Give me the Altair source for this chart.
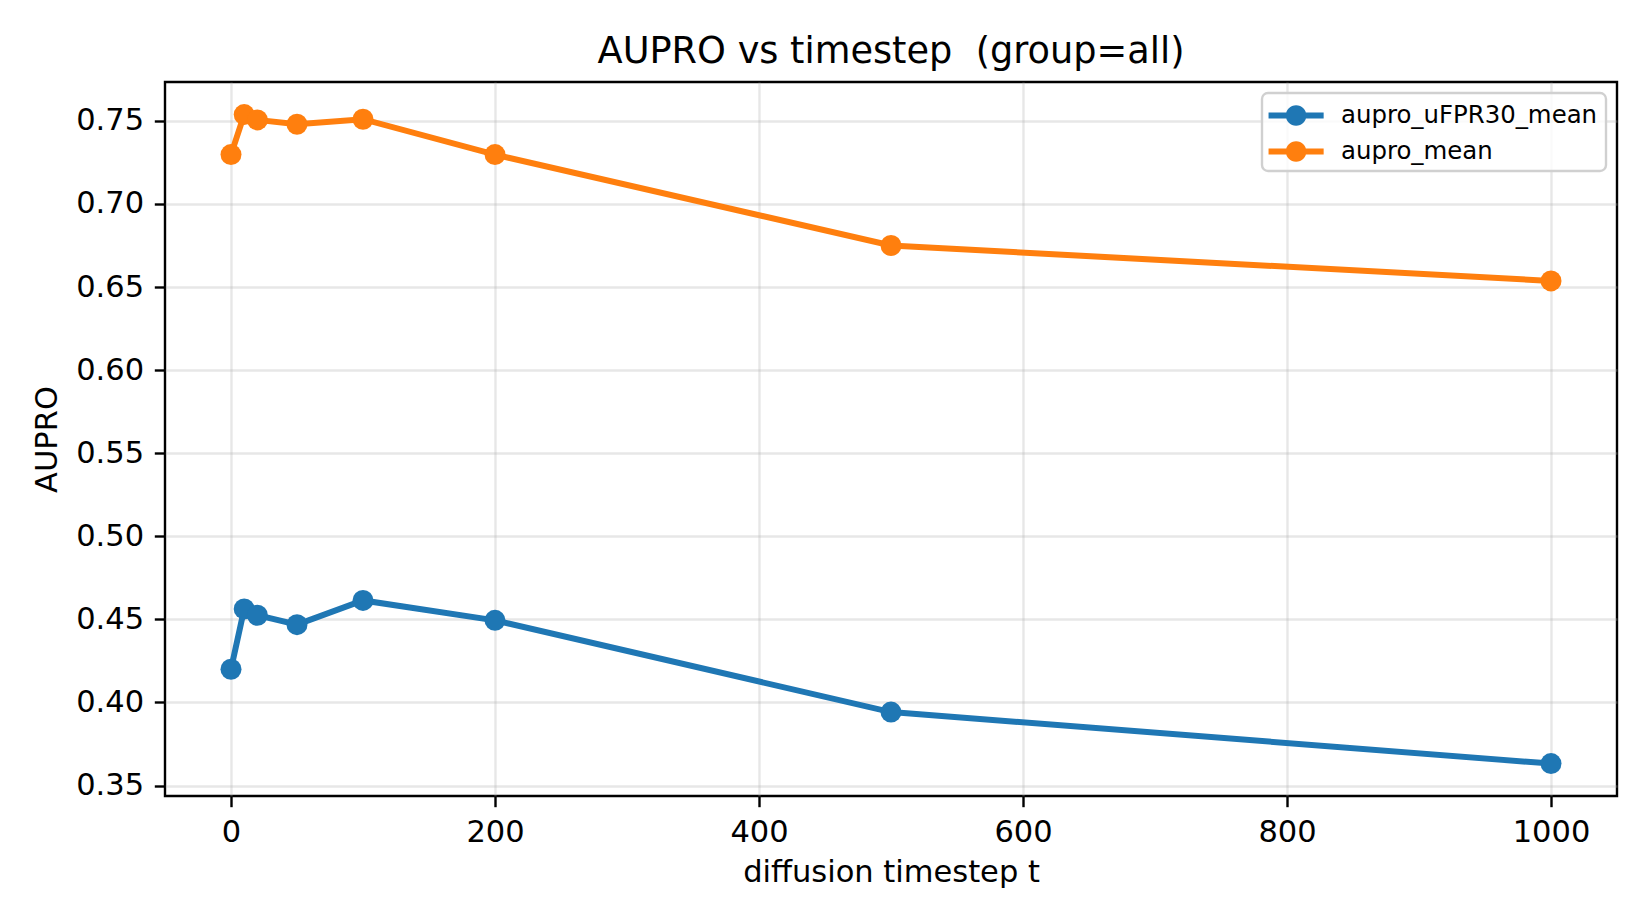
import altair as alt
import pandas as pd

timesteps = [0, 10, 20, 50, 100, 200, 500, 1000]
aupro_ufpr30_mean = [0.420, 0.4563, 0.4525, 0.4468, 0.4614, 0.4494, 0.3942, 0.3632]
aupro_mean = [0.7297, 0.7538, 0.7506, 0.7480, 0.7510, 0.7297, 0.6750, 0.6537]
series_names = ["aupro_uFPR30_mean", "aupro_mean"]
series_colors = ["#1f77b4", "#ff7f0e"]
x_ticks = [0, 200, 400, 600, 800, 1000]
y_ticks = [0.35, 0.40, 0.45, 0.50, 0.55, 0.60, 0.65, 0.70, 0.75]

rows = []
for name, vals in zip(series_names, [aupro_ufpr30_mean, aupro_mean]):
    for t, v in zip(timesteps, vals):
        rows.append({"t": t, "value": v, "series": name})
df = pd.DataFrame(rows)

FONT = "DejaVu Sans"
# legend glyph: a short line with a dot in the middle (unit coords, scaled by sqrt(size)/2)
legend_path = ("M-1.1,-0.207H2.7V0.207H-1.1Z "
               "M1.51,0A0.71,0.71 0 1,1 0.09,0A0.71,0.71 0 1,1 1.51,0Z")

x_enc = alt.X("t:Q", title="diffusion timestep t",
              scale=alt.Scale(domain=[-50, 1050], nice=False, zero=False),
              axis=alt.Axis(values=x_ticks, format="d", titlePadding=10))
y_enc = alt.Y("value:Q", title="AUPRO",
              scale=alt.Scale(domain=[0.3437, 0.7734], nice=False, zero=False),
              axis=alt.Axis(values=y_ticks, format=".2f", titlePadding=13))
color_scale = alt.Scale(domain=series_names, range=series_colors)

lines = alt.Chart(df).mark_line(strokeWidth=6).encode(
    x=x_enc, y=y_enc,
    color=alt.Color("series:N", scale=color_scale, sort=series_names, legend=None),
    detail="series:N",
)
points = alt.Chart(df).mark_point(filled=True, size=441, opacity=1, strokeWidth=0).encode(
    x=x_enc, y=y_enc,
    color=alt.Color("series:N", scale=color_scale, sort=series_names,
                    legend=alt.Legend(title=None, orient="top-right", offset=11,
                                      symbolType=legend_path, symbolSize=841,
                                      symbolOpacity=1, symbolStrokeWidth=0,
                                      labelFontSize=24.4, labelFont=FONT, labelColor="black",
                                      labelLimit=0, labelOffset=42, rowPadding=10, padding=8,
                                      strokeColor="#d0d0d0", fillColor="rgba(255,255,255,0.8)",
                                      cornerRadius=6)),
)

chart = alt.layer(lines, points).resolve_legend(color="independent").properties(
    width=1452, height=714,
    padding={"left": 157, "top": 74, "right": 25, "bottom": 120},
    autosize=alt.AutoSizeParams(type="none"),
    title=alt.Title("AUPRO vs timestep\u00a0 (group=all)", fontSize=36.7, font=FONT,
                    fontWeight="normal", color="black", offset=11),
).configure_view(stroke="black", strokeWidth=2.4).configure_axis(
    domain=False, grid=True, gridColor="#b0b0b0", gridOpacity=0.3, gridWidth=2.4,
    tickColor="black", tickWidth=2.4, tickSize=10.7,
    labelFont=FONT, labelFontSize=30.5, labelColor="black", labelPadding=10.7,
    titleFont=FONT, titleFontSize=30.5, titleFontWeight="normal", titleColor="black",
).configure_legend(
    strokeWidth=2.4,
)

chart.save("out.html", embed_options={"renderer": "svg", "actions": False})
